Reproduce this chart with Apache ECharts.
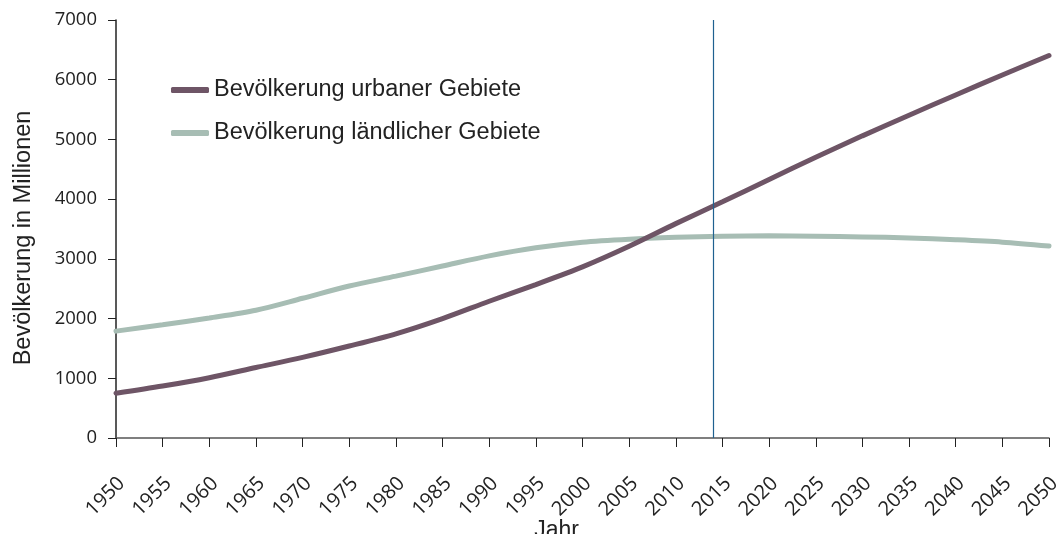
<!DOCTYPE html>
<html><head><meta charset="utf-8">
<script src="https://cdn.jsdelivr.net/npm/echarts@6/dist/echarts.min.js"></script>
<style>html,body{margin:0;padding:0;background:#fff}#c{width:1064px;height:534px}</style>
</head><body><div id="c"></div>
<script>
const years = [1950,1955,1960,1965,1970,1975,1980,1985,1990,1995,2000,2005,2010,2015,2020,2025,2030,2035,2040,2045,2050];
const urban = [750,870,1010,1180,1350,1540,1745,2000,2290,2570,2865,3210,3590,3955,4330,4700,5060,5405,5745,6080,6405];
const rural = [1790,1895,2010,2140,2340,2545,2710,2880,3050,3185,3280,3330,3360,3380,3385,3380,3368,3350,3320,3280,3215];
const markYear = 2014;
const seriesNames = ['Bevölkerung urbaner Gebiete','Bevölkerung ländlicher Gebiete'];
const font = 'Liberation Sans, Arial, sans-serif';
const tickFont = 'Open Sans, sans-serif';
const chart = echarts.init(document.getElementById('c'));
chart.setOption({
  animation:false,
  textStyle:{fontFamily:font},
  grid:{left:116,right:15,top:20,bottom:96,containLabel:false,outerBoundsMode:'none'},
  legend:{orient:'vertical',left:166,top:73,itemGap:19,itemWidth:38,itemHeight:6,icon:'roundRect',
    textStyle:{fontSize:23.5,color:'#222',fontFamily:font,padding:[0,0,0,0]},data:seriesNames},
  xAxis:{type:'value',min:1950,max:2050,interval:5,name:'Jahr',nameLocation:'middle',nameGap:81,nameMoveOverlap:false,
    nameTextStyle:{fontSize:23,color:'#222',padding:[0,52,0,0]},
    axisLine:{lineStyle:{color:'#555',width:1.5}},axisTick:{length:9,lineStyle:{color:'#222'}},
    axisLabel:{rotate:45,fontSize:20,color:'#222',margin:48,padding:[0,-8,0,0],fontFamily:tickFont,formatter:v=>String(v)},splitLine:{show:false}},
  yAxis:{type:'value',min:0,max:7000,interval:1000,name:'Bevölkerung in Millionen',nameLocation:'middle',nameGap:80,nameMoveOverlap:false,
    nameTextStyle:{fontSize:23.5,color:'#222',padding:[0,18,0,0]},
    axisLine:{show:true,lineStyle:{color:'#222',width:1.5}},axisTick:{show:true,length:8,lineStyle:{color:'#222'}},
    axisLabel:{fontSize:18.5,color:'#222',margin:19,fontFamily:tickFont,formatter:v=>String(v)},splitLine:{show:false}},
  series:[
    {name:seriesNames[0],type:'line',smooth:0.3,symbol:'none',data:years.map((y,i)=>[y,urban[i]]),
      lineStyle:{width:5,color:'#6e5566',cap:'round'},itemStyle:{color:'#6e5566'},z:3,
      markLine:{silent:true,symbol:'none',label:{show:false},lineStyle:{color:'#1f6190',width:1.2,type:'solid'},
        data:[[{coord:[markYear,0]},{coord:[markYear,7000]}]]}},
    {name:seriesNames[1],type:'line',smooth:0.3,symbol:'none',data:years.map((y,i)=>[y,rural[i]]),
      lineStyle:{width:5,color:'#a7bdb4',cap:'round'},itemStyle:{color:'#a7bdb4'},z:2}
  ]
});
</script></body></html>
